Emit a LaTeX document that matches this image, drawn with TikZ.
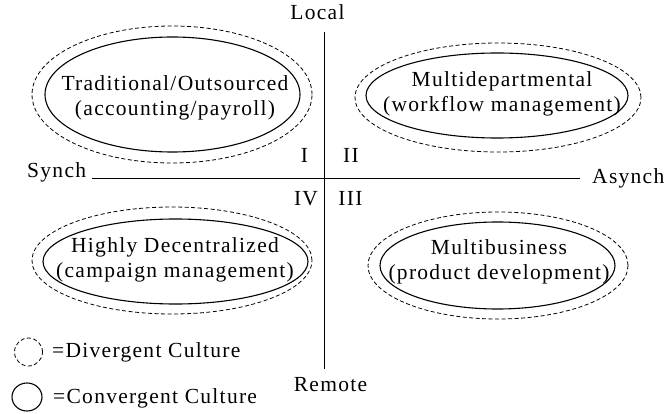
\documentclass[tikz,border=0pt]{standalone}
\usepackage{fontspec}
\setmainfont{Liberation Serif}[LetterSpace=6]
\usetikzlibrary{shapes.geometric}
\begin{document}
\begin{tikzpicture}[x=1pt,y=-1pt,
  lbl/.style={font=\fontsize{21.5}{25}\selectfont, inner sep=0pt, align=center},
  conv/.style={ellipse, draw, line width=1.1pt, inner sep=0pt},
  div/.style={ellipse, draw, dash pattern=on 4pt off 2.5pt, line width=0.8pt, inner sep=0pt},
  axisline/.style={line width=1pt}]
\useasboundingbox (0,0) rectangle (666,414);
% axes
\coordinate (top) at (324,32);
\coordinate (bot) at (324,369);
\coordinate (lft) at (92,179);
\coordinate (rgt) at (580,179);
\draw[axisline] (top) -- (bot);
\draw[axisline] (lft) -- (rgt);
% axis labels
\node[lbl, anchor=base] (local) at (317.5,20) {Local};
\node[lbl, anchor=base] (remote) at (330.5,391) {Remote};
\node[lbl, anchor=base west] (synch) at (27,178) {Synch};
\node[lbl, anchor=base west] (asynch) at (592,183) {Asynch};
% quadrant numbers
\node[lbl, anchor=base] (q1) at (304.5,163) {I};
\node[lbl, anchor=base] (q2) at (351,163) {II};
\node[lbl, anchor=base] (q3) at (350.5,205) {III};
\node[lbl, anchor=base] (q4) at (306,205) {IV};
% top left
\node[div, minimum width=280pt, minimum height=137pt] (tlout) at (172,94.5) {};
\node[conv, minimum width=255pt, minimum height=115pt] (tlin) at (172.5,94.5) {};
\node[lbl] (tltext) at (175,98) {Traditional/Outsourced\\(accounting/payroll)};
% top right
\node[div, minimum width=286pt, minimum height=109pt] (trout) at (498,97.5) {};
\node[conv, minimum width=262pt, minimum height=85pt] (trin) at (497,95.5) {};
\node[lbl] (trtext) at (502,94) {Multidepartmental\\(workflow management)};
% bottom left
\node[div, minimum width=280pt, minimum height=107pt] (blout) at (172,260.5) {};
\node[conv, minimum width=265pt, minimum height=85pt] (blin) at (175.5,261.5) {};
\node[lbl] (bltext) at (175,260) {Highly Decentralized\\(campaign management)};
% bottom right
\node[div, minimum width=260pt, minimum height=107pt] (brout) at (498,265.5) {};
\node[conv, minimum width=235pt, minimum height=87pt] (brin) at (497.5,265.5) {};
\node[lbl] (brtext) at (499,262) {Multibusiness\\(product development)};
% legend
\node[div, minimum width=28pt, minimum height=28pt] (legdiv) at (28.5,352) {};
\node[lbl, anchor=base west] (legdivtext) at (52,357) {=Divergent Culture};
\node[conv, minimum width=30pt, minimum height=28pt] (legconv) at (27,397) {};
\node[lbl, anchor=base west] (legconvtext) at (53,403) {=Convergent Culture};
\end{tikzpicture}
\end{document}
